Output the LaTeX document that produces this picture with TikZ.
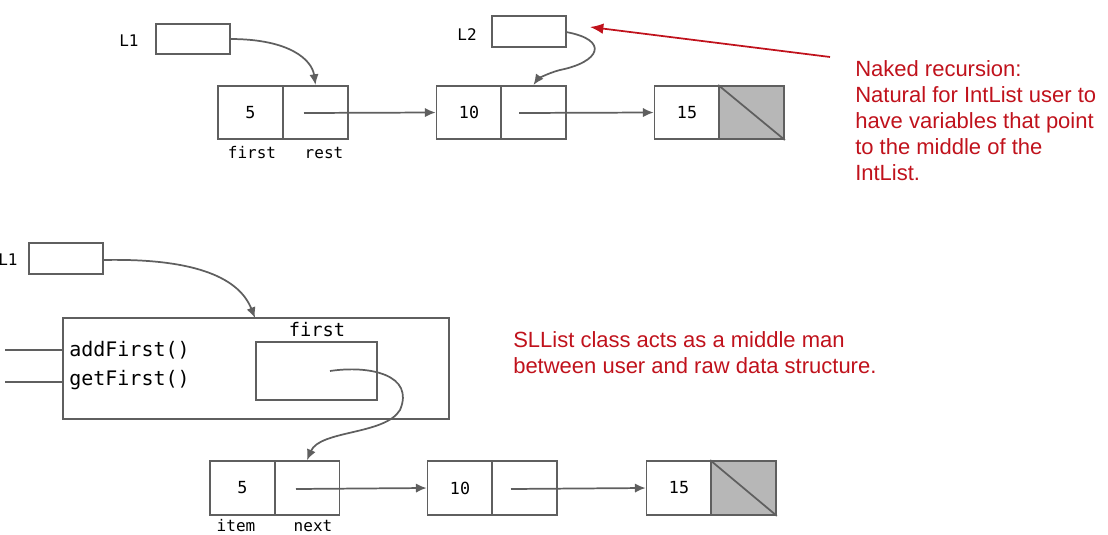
\documentclass[tikz,border=0pt]{standalone}
\usepackage{fontspec}
\setmainfont{Liberation Sans}
\setmonofont{DejaVu Sans Mono}
\usetikzlibrary{arrows.meta}
\definecolor{ln}{RGB}{95,95,95}
\definecolor{rd}{RGB}{192,18,28}
\definecolor{gr}{RGB}{183,183,183}
\begin{document}
\begin{tikzpicture}[x=0.75pt,y=-0.75pt,
  box/.style={draw=ln,line width=1.3pt,inner sep=0pt,font=\ttfamily\fontsize{12.5}{14}\selectfont},
  cell/.style={box,minimum width=48.75pt,minimum height=40pt},
  ptr/.style={box,minimum width=55.5pt,minimum height=23pt},
  arr/.style={draw=ln,line width=1.3pt,-{Latex[length=8pt,width=7pt]}},
  lbl/.style={font=\ttfamily\fontsize{12}{14}\selectfont},
  red/.style={text=rd,font=\fontsize{16.5}{19.5}\selectfont,align=left,anchor=north west,inner sep=0pt}]
\useasboundingbox (0,0) rectangle (1108,535);
% top
\node[lbl] (l1t) at (129,41) {L1};
\node[ptr] (p1) at (193,39) {};
\node[cell] (a1) at (250.5,112.5) {5};
\node[cell] (a2) at (315.5,112.5) {};
\node[cell] (b1) at (469,112.5) {10};
\node[cell] (b2) at (533.5,112.5) {};
\node[cell] (c1) at (687,112.5) {15};
\node[cell,fill=gr] (c2) at (751.5,112.5) {};
\draw[ln,line width=1.3pt] (c2.north west) -- (c2.south east);
\node[lbl] at (252,153) {first};
\node[lbl] at (324,153) {rest};
\node[lbl] (l2t) at (467,35) {L2};
\node[ptr] (p2) at (529,31.5) {};
\coordinate (s1) at (230,39);
\coordinate (s2) at (566,32);
\coordinate (s3) at (304,113);
\coordinate (s4) at (519,113);
\draw[arr] (s1) .. controls (290,39) and (312,60) .. (a2.north);
\draw[arr] (s2) .. controls (610,40) and (600,62) .. (560,70) .. controls (545,74) and (537,80) .. (b2.north);
\draw[arr] (s3) -- (b1.west);
\draw[arr] (s4) -- (c1.west);
\coordinate (rs) at (830,57);
\coordinate (re) at (590,27);
\draw[rd,line width=1.3pt,-{Latex[length=10pt,width=8pt]}] (rs) -- (re);
\node[red] (t1) at (855,60) {Naked recursion:\\Natural for IntList user to\\have variables that point\\to the middle of the\\IntList.};
% bottom
\node[lbl,anchor=west,inner sep=0pt] (l1b) at (-2,260) {L1};
\node[ptr] (p3) at (66,258.5) {};
\node[box,minimum width=289.5pt,minimum height=75.75pt] (cls) at (256,368.5) {};
\node[lbl,font=\ttfamily\fontsize{14}{16}\selectfont] at (317,330) {first};
\node[box,minimum width=90.75pt,minimum height=43.5pt] (fb) at (316.5,371) {};
\node[lbl,anchor=west,inner sep=0pt,font=\ttfamily\fontsize{15}{16}\selectfont] (m1) at (69,350) {addFirst()};
\node[lbl,anchor=west,inner sep=0pt,font=\ttfamily\fontsize{15}{16}\selectfont] (m2) at (69,380) {getFirst()};
\coordinate (e1) at (5,350);
\coordinate (e2) at (5,382);
\draw[ln,line width=1.3pt] (e1) -- (m1.west -| cls.west);
\draw[ln,line width=1.3pt] (e2) -- (cls.west |- 0,382);
\node[box,minimum width=48.75pt,minimum height=40.5pt] (d1) at (242.5,488) {5};
\node[box,minimum width=48.75pt,minimum height=40.5pt] (d2) at (307,488) {};
\node[box,minimum width=48.75pt,minimum height=40.5pt] (e1n) at (460,488) {10};
\node[box,minimum width=48.75pt,minimum height=40.5pt] (e2n) at (524.5,488) {};
\node[box,minimum width=48.75pt,minimum height=40.5pt] (f1) at (679,488) {15};
\node[box,minimum width=48.75pt,minimum height=40.5pt,fill=gr] (f2) at (743.5,488) {};
\draw[ln,line width=1.3pt] (f2.north west) -- (f2.south east);
\node[lbl] at (236,526) {item};
\node[lbl] at (313,526) {next};
\coordinate (q1) at (103,260);
\coordinate (q2) at (330,371);
\coordinate (q3) at (296,489);
\coordinate (q4) at (511,489);
\draw[arr] (q1) .. controls (200,258) and (240,280) .. (255,318);
\draw[arr] (q2) .. controls (370,365) and (415,375) .. (400,410) .. controls (385,435) and (320,430) .. (d2.north);
\draw[arr] (q3) -- (e1n.west);
\draw[arr] (q4) -- (f1.west);
\node[red] (t2) at (513,331) {SLList class acts as a middle man\\between user and raw data structure.};
\end{tikzpicture}
\end{document}
